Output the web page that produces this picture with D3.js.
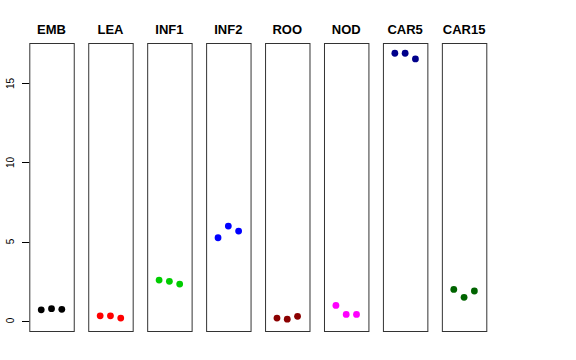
<!DOCTYPE html>
<html>
<head>
<meta charset="utf-8">
<script src="https://cdn.jsdelivr.net/npm/d3@7"></script>
<style>
  body { margin: 0; background: #fff; }
  svg { display: block; }
</style>
</head>
<body>
<svg class="canvas"></svg>
<script>
const categories = ['EMB', 'LEA', 'INF1', 'INF2', 'ROO', 'NOD', 'CAR5', 'CAR15'];
const colors = ['#000000', '#ff0000', '#00cd00', '#0000ff', '#8b0000', '#ff00ff', '#00008b', '#006400'];

const EMB = [0.68, 0.75, 0.71];
const LEA = [0.30, 0.30, 0.16];
const INF1 = [2.56, 2.48, 2.31];
const INF2 = [5.24, 5.98, 5.66];
const ROO = [0.16, 0.09, 0.27];
const NOD = [0.96, 0.39, 0.39];
const CAR5 = [16.91, 16.91, 16.55];
const CAR15 = [1.97, 1.47, 1.87];

const series = [EMB, LEA, INF1, INF2, ROO, NOD, CAR5, CAR15];
const yTicks = [0, 5, 10, 15];

const w = 576;
const h = 360;
const panelTop = 43;
const panelBottom = 331;

const svg = d3.select('svg.canvas')
    .attr('width', w)
    .attr('height', h);

let xBand = d3.scaleBand()
    .domain(categories)
    .range([29.3, 486.3])
    .paddingInner(0.246)
    .paddingOuter(0);

let yScale = d3.scaleLinear()
    .domain([-0.66, 17.56])
    .range([panelBottom, panelTop]);

// inner x: index 1..3, R style 4% extension around [0, 4]
let xInner = d3.scaleLinear()
    .domain([-0.16, 4.16])
    .range([0, xBand.bandwidth()]);

// y axis
let yAxis = svg.append('g').attr('class', 'y-axis');
yAxis.selectAll('line')
    .data(yTicks)
    .enter()
    .append('line')
    .attr('x1', 22)
    .attr('x2', 29.3)
    .attr('y1', d => Math.round(yScale(d)) + 0.5)
    .attr('y2', d => Math.round(yScale(d)) + 0.5)
    .attr('stroke', '#000')
    .attr('stroke-width', 1);
yAxis.selectAll('text')
    .data(yTicks)
    .enter()
    .append('text')
    .attr('transform', d => 'translate(13.5,' + yScale(d) + ') rotate(-90)')
    .attr('text-anchor', 'middle')
    .attr('font-family', 'Liberation Sans, Arial, sans-serif')
    .attr('font-size', 10)
    .text(d => d);

// panels
categories.forEach((cat, i) => {
    let g = svg.append('g')
        .attr('transform', 'translate(' + xBand(cat) + ',0)');

    g.append('rect')
        .attr('x', 0.5)
        .attr('y', panelTop + 0.5)
        .attr('width', xBand.bandwidth())
        .attr('height', panelBottom - panelTop)
        .attr('fill', 'none')
        .attr('stroke', '#333')
        .attr('stroke-width', 1);

    g.append('text')
        .attr('x', xBand.bandwidth() / 2)
        .attr('y', 34)
        .attr('text-anchor', 'middle')
        .attr('font-family', 'Liberation Sans, Arial, sans-serif')
        .attr('font-weight', 'bold')
        .attr('font-size', 13)
        .text(cat);

    g.selectAll('circle')
        .data(series[i])
        .enter()
        .append('circle')
        .attr('cx', (v, j) => xInner(j + 1))
        .attr('cy', v => yScale(v))
        .attr('r', 3.4)
        .attr('fill', colors[i]);
});
</script>
</body>
</html>
